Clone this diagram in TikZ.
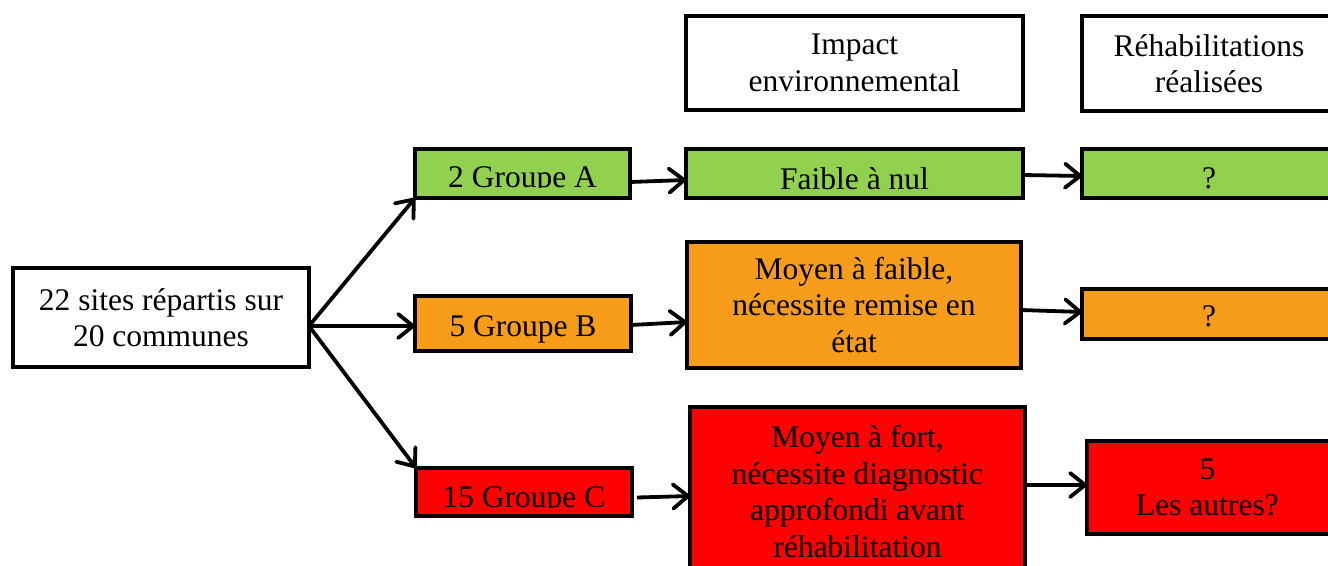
\documentclass[tikz,border=0pt]{standalone}
\usepackage{fontspec}
\setmainfont{Liberation Serif}
\usetikzlibrary{arrows.meta}
\definecolor{cgreen}{HTML}{92D050}
\definecolor{corange}{HTML}{F89C1C}
\definecolor{cred}{HTML}{FF0000}
\tikzset{
  box/.style={draw=black, line width=4.5pt, rectangle, inner sep=0pt, outer sep=0pt,
    align=center, font=\fontsize{31.5}{36.5}\selectfont},
  txt/.style={inner sep=0pt, outer sep=0pt, font=\fontsize{31.5}{36.5}\selectfont},
  arr/.style={line width=3.8pt, -{Straight Barb[length=15pt,width=24pt,round]}}
}
\begin{document}
\begin{tikzpicture}[x=1pt,y=-1pt]
\clip (0,0) rectangle (1328,565);
\fill[white] (0,0) rectangle (1328,565);
% source
\node[box, fill=white, minimum width=296pt, minimum height=99pt] (src) at (161,317.5)
  {22 sites répartis sur\\20 communes};
% groups
\node[box, fill=cgreen, minimum width=215pt, minimum height=49pt] (gA) at (522.5,173.5) {};
\begin{scope}
  \clip (gA.north west) rectangle (630,187);
  \node[txt, anchor=base] (gAt) at (522.5,187) {2 Groupe A};
\end{scope}
\node[box, fill=corange, minimum width=216pt, minimum height=55pt, text height=25pt, text depth=0pt] (gB) at (523,323.5) {5 Groupe B};
\node[box, fill=cred, minimum width=216pt, minimum height=48pt] (gC) at (524,492) {};
\begin{scope}
  \clip (gC.north west) rectangle (632,507);
  \node[txt, anchor=base] (gCt) at (524,507) {15 Groupe C};
\end{scope}
% headers
\node[box, fill=white, minimum width=337pt, minimum height=94pt] (hImp) at (854.5,63)
  {Impact\\environnemental};
\node[box, fill=white, minimum width=254pt, minimum height=95pt] (hReh) at (1209,63.5)
  {Réhabilitations\\réalisées};
% impact column
\node[box, fill=cgreen, minimum width=337pt, minimum height=49pt, text height=31pt, text depth=0pt] (fA) at (854.5,173.5) {Faible à nul};
\node[box, fill=corange, minimum width=334pt, minimum height=126pt] (fB) at (854,305)
  {Moyen à faible,\\nécessite remise en\\état};
\node[box, fill=cred, minimum width=335pt, minimum height=169pt] (fC) at (857.5,491.5)
  {Moyen à fort,\\nécessite diagnostic\\approfondi avant\\réhabilitation};
% rehabilitation column
\node[box, fill=cgreen, minimum width=254pt, minimum height=49pt, text height=29pt, text depth=0pt] (rA) at (1209,173.5) {?};
\node[box, fill=corange, minimum width=254pt, minimum height=50pt, text height=24pt, text depth=0pt] (rB) at (1209,314) {?};
\node[box, fill=cred, minimum width=253pt, minimum height=93pt] (rC) at (1213.5,487.5)
  {\hspace*{-12pt}5\\\hspace*{-12pt}Les autres?};
% connectors
\draw[arr] ([yshift=-8.5pt]src.east) -- (gA.south west);
\draw[arr] ([yshift=-8.5pt]src.east) -- ([yshift=-2.5pt]gB.west);
\draw[arr] ([yshift=-8.5pt]src.east) -- (gC.north west);
\draw[arr] ([yshift=-8.5pt]gA.east) -- ([yshift=-6.5pt]fA.west);
\draw[arr] ([yshift=-1.5pt]fA.east) -- ([yshift=-2.5pt]rA.west);
\draw[arr] ([yshift=-1.5pt]gB.east) -- ([yshift=-17pt]fB.west);
\draw[arr] ([yshift=-5pt]fB.east) -- ([yshift=2pt]rB.west);
\draw[arr] ([xshift=5pt,yshift=-5.5pt]gC.east) -- ([yshift=-4.5pt]fC.west);
\draw[arr] ([yshift=6.5pt]fC.east) -- ([yshift=2.5pt]rC.west);
\end{tikzpicture}
\end{document}
